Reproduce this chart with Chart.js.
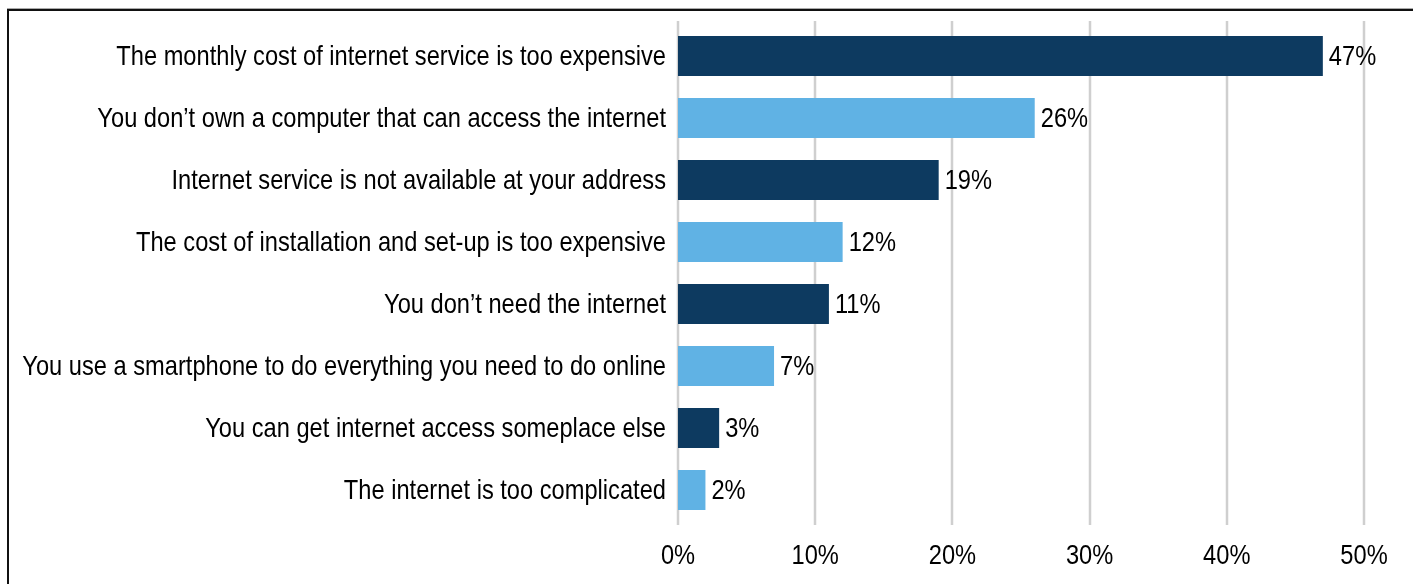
<!DOCTYPE html>
<html>
<head>
<meta charset="utf-8">
<script src="https://cdn.jsdelivr.net/npm/chart.js@4"></script>
<style>
  html, body { margin: 0; padding: 0; background: #fff; }
  #wrap { position: relative; width: 1413px; height: 584px; overflow: hidden; }
  #frame {
    position: absolute; left: 7px; top: 8px; right: -10px; bottom: -10px;
    border-top: 1px solid #aaa;
  }
  #frame div {
    position: absolute; left: 0; top: 0; right: 0; bottom: 0;
    border-left: 2px solid #111; border-top: 2px solid #111;
  }
  canvas { position: absolute; left: 0; top: 0; }
</style>
</head>
<body>
<div id="wrap">
  <div id="frame"><div></div></div>
  <canvas id="chart" width="1413" height="584"></canvas>
</div>
<script>
var REASONS = [
  'The monthly cost of internet service is too expensive',
  'You don\u2019t own a computer that can access the internet',
  'Internet service is not available at your address',
  'The cost of installation and set-up is too expensive',
  'You don\u2019t need the internet',
  'You use a smartphone to do everything you need to do online',
  'You can get internet access someplace else',
  'The internet is too complicated'
];
var SHARES = [47, 26, 19, 12, 11, 7, 3, 2];
var X_TICKS = [0, 10, 20, 30, 40, 50];
var COLORS = ['#0d3a60', '#60b2e4'];

var FONT = { family: '"Liberation Sans", Arial, sans-serif', size: 28 };
var SQUEEZE = 0.845; // narrow the text horizontally

function narrowText(c, text, x, y, align) {
  c.save();
  c.translate(x, y);
  c.scale(SQUEEZE, 1);
  c.textAlign = align;
  c.fillText(text, 0, 0);
  c.restore();
}

// grid lines a little taller than the plot area
var gridLines = {
  id: 'gridLines',
  beforeDatasetsDraw: function(chart) {
    var c = chart.ctx;
    var xs = chart.scales.x;
    var area = chart.chartArea;
    c.save();
    c.strokeStyle = '#cfcfcf';
    c.lineWidth = 2.5;
    xs.ticks.forEach(function(t) {
      var px = Math.round(xs.getPixelForValue(t.value));
      c.beginPath();
      c.moveTo(px, area.top - 4);
      c.lineTo(px, area.bottom + 4);
      c.stroke();
    });
    c.restore();
  }
};

// all text: category names, axis ticks and bar values
var labels = {
  id: 'labels',
  afterDatasetsDraw: function(chart) {
    var c = chart.ctx;
    var xs = chart.scales.x;
    var ys = chart.scales.y;
    var area = chart.chartArea;
    var meta = chart.getDatasetMeta(0);
    c.save();
    c.font = FONT.size + 'px ' + FONT.family;
    c.fillStyle = '#000';
    c.textBaseline = 'middle';
    REASONS.forEach(function(r, i) {
      narrowText(c, r, area.left - 12, ys.getPixelForValue(i) + 1, 'right');
    });
    meta.data.forEach(function(bar, i) {
      narrowText(c, SHARES[i] + '%', bar.x + 6, bar.y + 1, 'left');
    });
    xs.ticks.forEach(function(t) {
      narrowText(c, t.value + '%', xs.getPixelForValue(t.value), area.bottom + 35, 'center');
    });
    c.restore();
  }
};

var ctx = document.getElementById('chart');
var chart = new Chart(ctx, {
  type: 'bar',
  data: {
    labels: REASONS,
    datasets: [{
      data: SHARES,
      backgroundColor: REASONS.map(function(r, i) { return COLORS[i % 2]; }),
      categoryPercentage: 1,
      barPercentage: 0.645
    }]
  },
  options: {
    indexAxis: 'y',
    responsive: false,
    animation: false,
    layout: { padding: { top: 25, right: 49, left: 0, bottom: 0 } },
    plugins: {
      legend: { display: false },
      tooltip: { enabled: false }
    },
    scales: {
      x: {
        min: 0,
        max: 50,
        afterBuildTicks: function(scale) {
          scale.ticks = X_TICKS.map(function(v) { return { value: v }; });
        },
        afterFit: function(scale) { scale.height = 63; },
        grid: { display: false },
        border: { display: false },
        ticks: { display: false }
      },
      y: {
        afterFit: function(scale) { scale.width = 678; },
        grid: { display: false },
        border: { display: false },
        ticks: { display: false }
      }
    }
  },
  plugins: [gridLines, labels]
});
</script>
</body>
</html>
